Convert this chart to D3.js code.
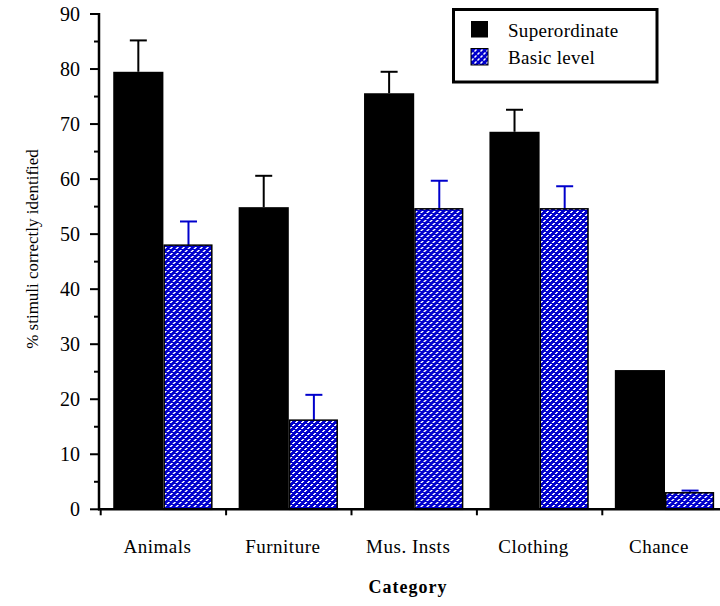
<!DOCTYPE html>
<html><head><meta charset="utf-8">
<script src="https://cdn.jsdelivr.net/npm/d3@7"></script>
<style>body{margin:0;background:#fff}svg{display:block}</style>
</head><body><svg id="c" width="720" height="606"></svg>
<script>
const categories = ["Animals","Furniture","Mus. Insts","Clothing","Chance"];
const series = ["Superordinate","Basic level"];
const superordinate = [79.5, 54.9, 75.6, 68.6, 25.3];
const superordinateErr = [5.7, 5.7, 3.9, 4.0, 0];
const basic = [48.0, 16.2, 54.6, 54.6, 3.0];
const basicErr = [4.3, 4.6, 5.1, 4.1, 0.4];
const yTicks = [0,10,20,30,40,50,60,70,80,90];

const FONT = "'Liberation Serif', 'Times New Roman', 'DejaVu Serif', serif";
const svg = d3.select("#c").attr("font-family", FONT);
const defs = svg.append("defs");
const pat = defs.append("pattern").attr("id","hatch").attr("patternUnits","userSpaceOnUse")
  .attr("width",6).attr("height",6);
pat.append("rect").attr("width",6).attr("height",6).attr("fill","#0000cc");
[0,1,3,4].forEach(i=>{
  pat.append("rect").attr("x",i).attr("y",5-i).attr("width",2).attr("height",1)
    .attr("fill","#fff").attr("shape-rendering","crispEdges");
});

const y = d3.scaleLinear().domain([0,90]).range([509.3,14]);
const x0 = d3.scaleBand().domain(categories).range([100.7,727.7]).padding(0);
const x1 = d3.scaleBand().domain(series).range([0,x0.bandwidth()]).paddingInner(0).paddingOuter(0.25);

const rows = categories.map((c,i)=>({c, vals:[
  {s:series[0], v:superordinate[i], e:superordinateErr[i]},
  {s:series[1], v:basic[i], e:basicErr[i]}]}));

const g = svg.append("g").selectAll("g").data(rows).join("g")
  .attr("transform",d=>`translate(${x0(d.c)},0)`);

g.selectAll("g.err").data(d=>d.vals).join("g").attr("class","err").each(function(d){
  const col = d.s===series[0] ? "#000" : "#0000cc";
  const cx = x1(d.s)+x1.bandwidth()/2;
  const gg = d3.select(this);
  if (d.e>0) {
    gg.append("line").attr("x1",cx).attr("x2",cx).attr("y1",y(d.v)).attr("y2",y(d.v+d.e))
      .attr("stroke",col).attr("stroke-width",2);
    gg.append("line").attr("x1",cx-8.5).attr("x2",cx+8.5).attr("y1",y(d.v+d.e)).attr("y2",y(d.v+d.e))
      .attr("stroke",col).attr("stroke-width",2);
  }
});

g.selectAll("rect").data(d=>d.vals).join("rect")
  .attr("x",d=>x1(d.s)+(d.s===series[0]?0:0.75))
  .attr("width",d=>x1.bandwidth()-(d.s===series[0]?0:2.5))
  .attr("y",d=>y(d.v))
  .attr("height",d=>y(0)-y(d.v))
  .attr("fill",d=>d.s===series[0]?"#000":"url(#hatch)")
  .attr("stroke",d=>d.s===series[0]?"none":"#000")
  .attr("stroke-width",1.5);

const yAxis = svg.append("g").attr("transform","translate(99,0)");
yAxis.append("line").attr("x1",0).attr("x2",0).attr("y1",y(90)-1).attr("y2",y(0)+1)
  .attr("stroke","#000").attr("stroke-width",2.5);
const minor = d3.range(5,90,10);
yAxis.selectAll("line.mi").data(minor).join("line").attr("class","mi")
  .attr("x1",-5).attr("x2",0).attr("y1",d=>y(d)).attr("y2",d=>y(d)).attr("stroke","#000").attr("stroke-width",2);
yAxis.selectAll("line.ma").data(yTicks).join("line").attr("class","ma")
  .attr("x1",-9).attr("x2",0).attr("y1",d=>y(d)).attr("y2",d=>y(d)).attr("stroke","#000").attr("stroke-width",2);
yAxis.selectAll("text").data(yTicks).join("text")
  .attr("x",-19).attr("y",d=>y(d)).attr("dy","0.35em").attr("text-anchor","end")
  .attr("font-family",FONT).attr("font-size",20).text(d=>d);

const xAxis = svg.append("g").attr("transform",`translate(0,${y(0)})`);
xAxis.append("line").attr("x1",98).attr("x2",720).attr("y1",0).attr("y2",0)
  .attr("stroke","#000").attr("stroke-width",2.5);
const bounds = categories.map(c=>x0(c)).concat([x0.range()[1]]);
xAxis.selectAll("line.t").data(bounds).join("line").attr("class","t")
  .attr("x1",d=>d).attr("x2",d=>d).attr("y1",0).attr("y2",6).attr("stroke","#000").attr("stroke-width",2);
xAxis.selectAll("text").data(categories).join("text")
  .attr("x",d=>x0(d)+x0.bandwidth()/2-6).attr("y",44).attr("text-anchor","middle")
  .attr("font-family",FONT).attr("font-size",19).attr("letter-spacing",0.5).text(d=>d);

svg.append("text").attr("x",408).attr("y",593).attr("text-anchor","middle")
  .attr("font-family",FONT).attr("font-size",18).attr("font-weight","bold").attr("letter-spacing",1).text("Category");

svg.append("text").attr("transform","translate(38,249) rotate(-90)").attr("text-anchor","middle")
  .attr("font-family",FONT).attr("font-size",17).text("% stimuli correctly identified");

const lg = svg.append("g");
lg.append("rect").attr("x",453.5).attr("y",9.5).attr("width",203.5).attr("height",72.5)
  .attr("fill","#fff").attr("stroke","#000").attr("stroke-width",3);
const li = lg.selectAll("g.li").data(series).join("g").attr("class","li")
  .attr("transform",(d,i)=>`translate(471,${21+i*27.5})`);
li.append("rect").attr("width",17).attr("height",16.5)
  .attr("fill",(d,i)=>i===0?"#000":"url(#hatch)").attr("stroke",(d,i)=>i===0?"none":"#000").attr("stroke-width",1);
li.append("text").attr("x",37).attr("y",15.5).attr("font-family",FONT).attr("font-size",19).attr("letter-spacing",0.3).text(d=>d);
</script></body></html>
